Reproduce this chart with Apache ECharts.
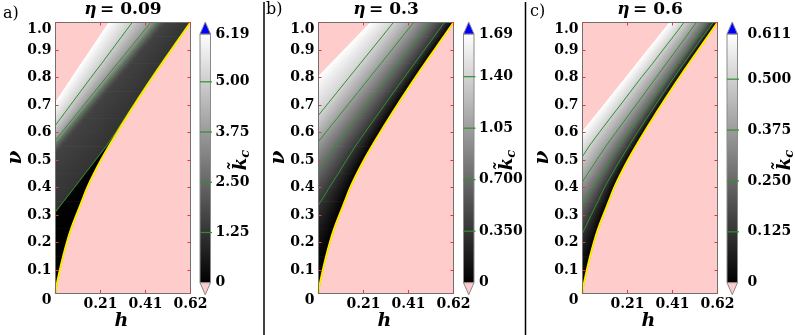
<!DOCTYPE html>
<html><head><meta charset="utf-8">
<script src="https://cdn.jsdelivr.net/npm/echarts@6/dist/echarts.min.js"></script>
<style>html,body{margin:0;padding:0;background:#fff}#c{width:795px;height:335px}</style>
</head><body><div id="c"></div>
<script>
// ---------- shared axis data ----------
const NU = [0, 0.03, 0.06, 0.1, 0.15, 0.2, 0.25, 0.3, 0.35, 0.4, 0.45, 0.5, 0.55, 0.6, 0.65, 0.7, 0.75, 0.8, 0.85, 0.9, 0.95, 1.0];
const NU_MIN = 0.016, NU_MAX = 1.0, H_MIN = 0, H_MAX = 0.62;
const X_TICK_VALS = [0.2067, 0.4133, 0.62];
const X_TICK_LABELS = ['0.21', '0.41', '0.62'];
const Y_TICK_VALS = [0.016, 0.1, 0.2, 0.3, 0.4, 0.5, 0.6, 0.7, 0.8, 0.9, 1.0];
const Y_TICK_LABELS = ['0', '0.1', '0.2', '0.3', '0.4', '0.5', '0.6', '0.7', '0.8', '0.9', '1.0'];

// ---------- panel a (eta = 0.09) : h positions of level curves at each NU ----------
const A_ETA = '0.09';
const A_CMAX = 6.19;
const A_CB_TICKS = [0, 1.25, 2.5, 3.75, 5.0, 6.19];
const A_CB_LABELS = ['0', '1.25', '2.50', '3.75', '5.00', '6.19'];
const A_YELLOW = [0, 0.002, 0.009, 0.020, 0.035, 0.052, 0.072, 0.096, 0.121, 0.146, 0.176, 0.209, 0.245, 0.283, 0.322, 0.362, 0.403, 0.445, 0.488, 0.532, 0.576, 0.620];
const A_K010 = [-0.300, -0.270, -0.241, -0.202, -0.154, -0.105, -0.056, -0.008, 0.041, 0.090, 0.138, 0.187, 0.236, 0.279, 0.319, 0.359, 0.400, 0.442, 0.485, 0.529, 0.573, 0.618];
const A_K125 = [-0.303, -0.273, -0.244, -0.205, -0.157, -0.108, -0.059, -0.011, 0.038, 0.087, 0.135, 0.184, 0.233, 0.276, 0.316, 0.357, 0.398, 0.440, 0.483, 0.527, 0.571, 0.616];
const A_K160 = [-0.550, -0.520, -0.490, -0.449, -0.397, -0.344, -0.291, -0.238, -0.185, -0.133, -0.080, -0.027, 0.026, 0.079, 0.131, 0.184, 0.237, 0.290, 0.343, 0.395, 0.448, 0.501];
const A_K250 = [-0.580, -0.550, -0.520, -0.479, -0.427, -0.374, -0.321, -0.268, -0.215, -0.163, -0.110, -0.057, -0.004, 0.049, 0.101, 0.154, 0.207, 0.260, 0.313, 0.365, 0.418, 0.471];
const A_K375 = [-0.586, -0.555, -0.525, -0.484, -0.433, -0.382, -0.330, -0.279, -0.228, -0.177, -0.126, -0.075, -0.024, 0.028, 0.079, 0.130, 0.181, 0.232, 0.283, 0.335, 0.386, 0.437];
const A_K500 = [-0.592, -0.564, -0.535, -0.497, -0.450, -0.403, -0.356, -0.309, -0.261, -0.214, -0.167, -0.120, -0.073, -0.025, 0.022, 0.069, 0.116, 0.163, 0.211, 0.258, 0.305, 0.352];
const A_EDGE = [-0.600, -0.575, -0.549, -0.515, -0.473, -0.431, -0.389, -0.346, -0.304, -0.262, -0.220, -0.177, -0.135, -0.093, -0.051, -0.008, 0.034, 0.076, 0.118, 0.161, 0.203, 0.245];

// ---------- panel b (eta = 0.3) ----------
const B_ETA = '0.3';
const B_CMAX = 1.69;
const B_CB_TICKS = [0, 0.35, 0.70, 1.05, 1.40, 1.69];
const B_CB_LABELS = ['0', '0.350', '0.700', '1.05', '1.40', '1.69'];
const B_YELLOW = [0, 0.002, 0.009, 0.020, 0.035, 0.052, 0.072, 0.096, 0.121, 0.146, 0.176, 0.209, 0.245, 0.283, 0.322, 0.362, 0.403, 0.445, 0.488, 0.532, 0.576, 0.620];
const B_K035 = [-0.264, -0.240, -0.217, -0.185, -0.146, -0.107, -0.067, -0.028, 0.011, 0.050, 0.090, 0.129, 0.169, 0.213, 0.258, 0.303, 0.348, 0.394, 0.440, 0.486, 0.532, 0.578];
const B_K070 = [-0.412, -0.385, -0.359, -0.323, -0.279, -0.234, -0.190, -0.145, -0.100, -0.056, -0.012, 0.033, 0.078, 0.125, 0.173, 0.221, 0.270, 0.318, 0.366, 0.415, 0.463, 0.512];
const B_K105 = [-0.572, -0.542, -0.512, -0.471, -0.421, -0.370, -0.320, -0.269, -0.219, -0.168, -0.118, -0.068, -0.017, 0.033, 0.084, 0.134, 0.185, 0.235, 0.286, 0.336, 0.386, 0.437];
const B_K140 = [-0.677, -0.646, -0.616, -0.575, -0.524, -0.473, -0.422, -0.371, -0.320, -0.269, -0.217, -0.166, -0.115, -0.064, -0.013, 0.038, 0.089, 0.140, 0.191, 0.242, 0.293, 0.344];
const B_EDGE = [-0.981, -0.944, -0.908, -0.859, -0.798, -0.737, -0.676, -0.615, -0.554, -0.493, -0.432, -0.371, -0.310, -0.249, -0.188, -0.127, -0.066, -0.005, 0.056, 0.117, 0.178, 0.239];

// ---------- panel c (eta = 0.6) ----------
const C_ETA = '0.6';
const C_CMAX = 0.611;
const C_CB_TICKS = [0, 0.125, 0.25, 0.375, 0.5, 0.611];
const C_CB_LABELS = ['0', '0.125', '0.250', '0.375', '0.500', '0.611'];
const C_YELLOW = [0, 0.002, 0.009, 0.020, 0.035, 0.052, 0.072, 0.096, 0.121, 0.146, 0.176, 0.209, 0.245, 0.283, 0.322, 0.362, 0.403, 0.445, 0.488, 0.532, 0.576, 0.620];
const C_K125 = [-0.180, -0.155, -0.130, -0.100, -0.060, -0.020, 0.010, 0.040, 0.071, 0.101, 0.136, 0.173, 0.212, 0.252, 0.293, 0.335, 0.377, 0.420, 0.464, 0.509, 0.554, 0.600];
const C_K250 = [-0.260, -0.237, -0.214, -0.183, -0.144, -0.105, -0.067, -0.028, 0.011, 0.050, 0.089, 0.127, 0.167, 0.212, 0.257, 0.301, 0.346, 0.390, 0.435, 0.480, 0.524, 0.569];
const C_K375 = [-0.340, -0.315, -0.290, -0.260, -0.220, -0.180, -0.140, -0.099, -0.058, -0.017, 0.024, 0.065, 0.107, 0.153, 0.199, 0.246, 0.292, 0.338, 0.384, 0.431, 0.477, 0.523];
const C_K500 = [-0.485, -0.455, -0.430, -0.390, -0.340, -0.295, -0.248, -0.200, -0.153, -0.105, -0.060, -0.010, 0.030, 0.077, 0.125, 0.174, 0.222, 0.270, 0.321, 0.369, 0.418, 0.466];
const C_EDGE = [-0.608, -0.578, -0.547, -0.507, -0.457, -0.406, -0.356, -0.305, -0.255, -0.205, -0.154, -0.104, -0.053, -0.003, 0.047, 0.098, 0.148, 0.199, 0.249, 0.299, 0.350, 0.400];

// ---------- assemble panels ----------
const PANELS = [
  { letter: 'a)', eta: A_ETA, cmax: A_CMAX, cbTicks: A_CB_TICKS, cbLabels: A_CB_LABELS, yellow: A_YELLOW,
    levels: [[A_YELLOW, 0], [A_K010, 0.1], [A_K125, 1.25], [A_K160, 1.6], [A_K250, 2.5], [A_K375, 3.75], [A_K500, 5.0], [A_EDGE, 6.19]],
    contours: [A_K125, A_K250, A_K375, A_K500], cbLines: [1.25, 2.5, 3.75, 5.0],
    L: { plot: 55.5, cb: 200, cbMargin: 5, letterX: 3, letterY: 14, kx: 241 } },
  { letter: 'b)', eta: B_ETA, cmax: B_CMAX, cbTicks: B_CB_TICKS, cbLabels: B_CB_LABELS, yellow: B_YELLOW,
    levels: [[B_YELLOW, 0], [B_K035, 0.35], [B_K070, 0.70], [B_K105, 1.05], [B_K140, 1.40], [B_EDGE, 1.69]],
    contours: [B_K035, B_K070, B_K105, B_K140], cbLines: [0.35, 0.70, 1.05, 1.40],
    L: { plot: 318.5, cb: 463.5, cbMargin: 5, letterX: 266, letterY: 10, kx: 507 } },
  { letter: 'c)', eta: C_ETA, cmax: C_CMAX, cbTicks: C_CB_TICKS, cbLabels: C_CB_LABELS, yellow: C_YELLOW,
    levels: [[C_YELLOW, 0], [C_K125, 0.125], [C_K250, 0.25], [C_K375, 0.375], [C_K500, 0.5], [C_EDGE, 0.611]],
    contours: [C_K125, C_K250, C_K375, C_K500], cbLines: [0.125, 0.25, 0.375, 0.5],
    L: { plot: 582.5, cb: 727, cbMargin: 10, letterX: 530, letterY: 12, kx: 785 } }
];

const PLOT_TOP = 22.5, PLOT_H = 270.5, PLOT_W = 135;
const CB_TOP = 34, CB_H = 248.7, CB_W = 10.5;
const FONT = 'DejaVu Serif';
const PINK = '#ffcccc';
const GREEN = '#2f8f2f';
const YEL = '#ffea00';
const TICKC = '#d04040';

function gray(t) {
  const g = Math.round(255 * Math.max(0, Math.min(1, t)));
  return 'rgb(' + g + ',' + g + ',' + g + ')';
}

const grids = [], xAxes = [], yAxes = [], series = [], graphics = [];

PANELS.forEach((P, p) => {
  const gPlot = grids.length;
  grids.push({ left: P.L.plot, top: PLOT_TOP, width: PLOT_W, height: PLOT_H, show: true, backgroundColor: PINK, borderWidth: 0 });
  const gCb = grids.length;
  grids.push({ left: P.L.cb, top: CB_TOP, width: CB_W, height: CB_H, show: false });

  const xi = xAxes.length, yi = yAxes.length;
  const lbl = { fontFamily: FONT, fontWeight: 'bold', fontSize: 14, color: '#000' };
  xAxes.push({ type: 'value', gridIndex: gPlot, min: H_MIN, max: H_MAX, z: 10,
    axisLine: { show: true, onZero: false, lineStyle: { color: '#707070', width: 1 } },
    axisTick: { show: true, inside: true, length: 3, customValues: X_TICK_VALS, lineStyle: { color: TICKC } },
    axisLabel: Object.assign({ customValues: X_TICK_VALS, margin: 4, formatter: v => X_TICK_LABELS[X_TICK_VALS.indexOf(v)] || '' }, lbl),
    splitLine: { show: false } });
  xAxes.push({ type: 'value', gridIndex: gPlot, min: H_MIN, max: H_MAX, position: 'top', z: 10,
    axisLine: { show: true, onZero: false, lineStyle: { color: '#707070', width: 1 } },
    axisTick: { show: true, inside: true, length: 3, customValues: X_TICK_VALS, lineStyle: { color: TICKC } },
    axisLabel: { show: false }, splitLine: { show: false } });
  xAxes.push({ type: 'value', gridIndex: gCb, min: 0, max: 1, show: false });

  yAxes.push({ type: 'value', gridIndex: gPlot, min: NU_MIN, max: NU_MAX, z: 10,
    axisLine: { show: true, onZero: false, lineStyle: { color: '#707070', width: 1 } },
    axisTick: { show: true, inside: true, length: 3, customValues: Y_TICK_VALS.slice(1), lineStyle: { color: TICKC } },
    axisLabel: Object.assign({ customValues: Y_TICK_VALS, margin: 4, verticalAlignMaxLabel: 'top', verticalAlignMinLabel: 'top',
      formatter: v => Y_TICK_LABELS[Y_TICK_VALS.indexOf(v)] || '' }, lbl),
    splitLine: { show: false } });
  yAxes.push({ type: 'value', gridIndex: gPlot, min: NU_MIN, max: NU_MAX, position: 'right', z: 10,
    axisLine: { show: true, onZero: false, lineStyle: { color: '#707070', width: 1 } },
    axisTick: { show: true, inside: true, length: 3, customValues: Y_TICK_VALS.slice(1), lineStyle: { color: TICKC } },
    axisLabel: { show: false }, splitLine: { show: false } });
  yAxes.push({ type: 'value', gridIndex: gCb, min: 0, max: P.cmax, position: 'right',
    axisLine: { show: false }, axisTick: { show: false }, splitLine: { show: false },
    axisLabel: Object.assign({ customValues: P.cbTicks, margin: P.L.cbMargin, formatter: v => P.cbLabels[P.cbTicks.indexOf(v)] || '' }, lbl) });

  // ---- field: gradient polygons between successive level curves ----
  const fdata = [];
  for (let j = 0; j < NU.length - 1; j++)
    for (let k = 0; k < P.levels.length - 1; k++) fdata.push([j, k]);
  series.push({
    type: 'custom', xAxisIndex: xi, yAxisIndex: yi, clip: true, silent: true, z: 2,
    data: fdata,
    renderItem: function (params, api) {
      const j = api.value(0), k = api.value(1);
      const lo = P.levels[k][0], hi = P.levels[k + 1][0];
      const c0 = gray(P.levels[k][1] / P.cmax), c1 = gray(P.levels[k + 1][1] / P.cmax);
      const a0 = api.coord([lo[j], NU[j]]), a1 = api.coord([lo[j + 1], NU[j + 1]]);
      const b0 = api.coord([hi[j], NU[j]]), b1 = api.coord([hi[j + 1], NU[j + 1]]);
      let dx = (a1[0] - a0[0]) + (b1[0] - b0[0]), dy = (a1[1] - a0[1]) + (b1[1] - b0[1]);
      const Ln = Math.hypot(dx, dy) || 1; dx /= Ln; dy /= Ln;
      const nx = -dy, ny = dx;
      const ma = [(a0[0] + a1[0]) / 2, (a0[1] + a1[1]) / 2], mb = [(b0[0] + b1[0]) / 2, (b0[1] + b1[1]) / 2];
      const t = (mb[0] - ma[0]) * nx + (mb[1] - ma[1]) * ny;
      let fill;
      if (Math.abs(t) < 0.6) fill = c0;
      else fill = new echarts.graphic.LinearGradient(ma[0], ma[1], ma[0] + nx * t, ma[1] + ny * t,
        [{ offset: 0, color: c0 }, { offset: 1, color: c1 }], true);
      return { type: 'polygon', shape: { points: [a0, a1, b1, b0] }, style: { fill: fill, stroke: fill, lineWidth: 0.8 } };
    }
  });

  // ---- contour lines ----
  P.contours.forEach(arr => {
    series.push({ type: 'line', xAxisIndex: xi, yAxisIndex: yi, clip: true, silent: true, z: 3,
      symbol: 'none', lineStyle: { color: GREEN, width: 1 },
      data: NU.map((v, i) => [arr[i], v]) });
  });
  // ---- yellow boundary ----
  series.push({ type: 'line', xAxisIndex: xi, yAxisIndex: yi, clip: true, silent: true, z: 4,
    symbol: 'none', smooth: 0.3, lineStyle: { color: YEL, width: 2 },
    data: NU.map((v, i) => [P.yellow[i], v]) });

  // ---- colorbar ----
  series.push({
    type: 'custom', xAxisIndex: xi + 2, yAxisIndex: yi + 2, clip: false, silent: true, z: 5,
    data: [[0]],
    renderItem: function (params, api) {
      const tl = api.coord([0, P.cmax]), br = api.coord([1, 0]);
      const w = br[0] - tl[0], h = br[1] - tl[1], cx = (tl[0] + br[0]) / 2, tri = 12;
      const children = [
        { type: 'rect', shape: { x: tl[0], y: tl[1], width: w, height: h },
          style: { fill: new echarts.graphic.LinearGradient(0, 1, 0, 0, [{ offset: 0, color: '#000' }, { offset: 1, color: '#fff' }]), stroke: '#8a8a8a', lineWidth: 1 } },
        { type: 'polygon', shape: { points: [[tl[0], tl[1]], [br[0], tl[1]], [cx, tl[1] - tri]] }, style: { fill: '#0000ff', stroke: '#8a8a8a', lineWidth: 1 } },
        { type: 'polygon', shape: { points: [[tl[0], br[1]], [br[0], br[1]], [cx, br[1] + tri]] }, style: { fill: PINK, stroke: '#8a8a8a', lineWidth: 1 } }
      ];
      P.cbLines.forEach(v => {
        const q = api.coord([0, v]);
        children.push({ type: 'line', shape: { x1: tl[0], y1: q[1], x2: br[0] + 1.5, y2: q[1] }, style: { stroke: GREEN, lineWidth: 1.2 } });
      });
      return { type: 'group', children: children };
    }
  });

  // ---- texts ----
  const cx = P.L.plot + PLOT_W / 2;
  graphics.push({ type: 'text', x: cx, y: 10, style: { text: '{e|η} {n|= ' + P.eta + '}', align: 'center', verticalAlign: 'middle',
    rich: { e: { fontFamily: FONT, fontStyle: 'italic', fontWeight: 'bold', fontSize: 17 }, n: { fontFamily: FONT, fontWeight: 'bold', fontSize: 17 } } } });
  graphics.push({ type: 'text', x: P.L.letterX, y: P.L.letterY, style: { text: P.letter, align: 'left', verticalAlign: 'middle', fontFamily: FONT, fontSize: 16, fill: '#000' } });
  graphics.push({ type: 'text', x: P.L.plot - 40, y: 157.5, rotation: Math.PI / 2, style: { text: 'ν', align: 'center', verticalAlign: 'middle', fontFamily: FONT, fontStyle: 'italic', fontWeight: 'bold', fontSize: 20, fill: '#000' } });
  graphics.push({ type: 'text', x: cx - 1.5, y: 321.5, style: { text: 'h', align: 'center', verticalAlign: 'middle', fontFamily: FONT, fontStyle: 'italic', fontWeight: 'bold', fontSize: 19, fill: '#000' } });
  graphics.push({ type: 'text', x: P.L.kx, y: 160, rotation: Math.PI / 2, style: { text: '{k|k\u0303}{c|c}', align: 'center', verticalAlign: 'middle',
    rich: { k: { fontFamily: FONT, fontStyle: 'italic', fontWeight: 'bold', fontSize: 18 }, c: { fontFamily: FONT, fontStyle: 'italic', fontWeight: 'bold', fontSize: 13, padding: [9, 0, 0, 0] } } } });
});

// separators between panels
graphics.push({ type: 'line', shape: { x1: 264, y1: 2, x2: 264, y2: 335 }, style: { stroke: '#000', lineWidth: 1.5 } });
graphics.push({ type: 'line', shape: { x1: 525.5, y1: 2, x2: 525.5, y2: 335 }, style: { stroke: '#000', lineWidth: 1.5 } });

const chart = echarts.init(document.getElementById('c'), null, { renderer: 'canvas' });
chart.setOption({
  animation: false, backgroundColor: '#fff',
  grid: grids, xAxis: xAxes, yAxis: yAxes, series: series, graphic: graphics
});
</script></body></html>
